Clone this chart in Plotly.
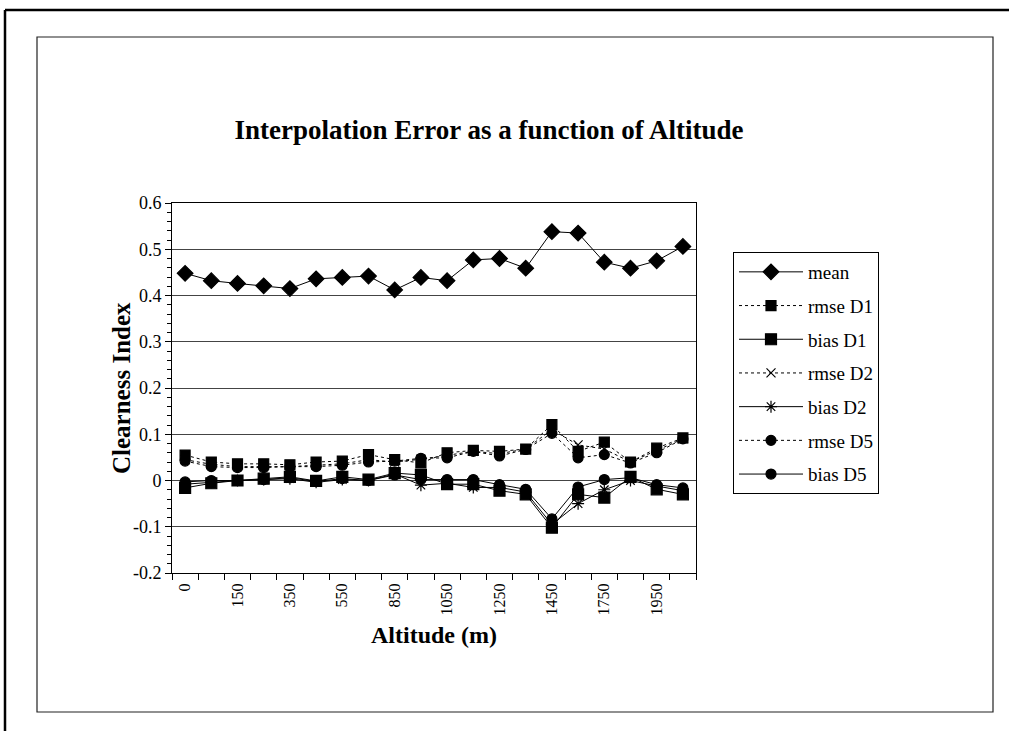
import plotly.graph_objects as go

# ---- data ----
altitudes = ["0", "50", "150", "250", "350", "450", "550", "750", "850", "950",
             "1050", "1150", "1250", "1350", "1450", "1650", "1750", "1850", "1950", "2050"]
shown_labels = ["0", "150", "350", "550", "850", "1050", "1250", "1450", "1750", "1950"]
y_tick_vals = [-0.2, -0.1, 0, 0.1, 0.2, 0.3, 0.4, 0.5, 0.6]
y_tick_text = ["-0.2", "-0.1", "0", "0.1", "0.2", "0.3", "0.4", "0.5", "0.6"]

mean = [0.448, 0.432, 0.426, 0.421, 0.415, 0.436, 0.439, 0.442, 0.412, 0.439,
        0.432, 0.477, 0.480, 0.459, 0.538, 0.535, 0.472, 0.459, 0.475, 0.506]
rmse_D1 = [0.055, 0.040, 0.036, 0.036, 0.034, 0.040, 0.042, 0.056, 0.045, 0.038,
           0.060, 0.065, 0.063, 0.068, 0.121, 0.063, 0.083, 0.040, 0.070, 0.092]
bias_D1 = [-0.016, -0.006, 0.000, 0.004, 0.008, -0.001, 0.008, 0.002, 0.016, 0.012,
           -0.008, -0.008, -0.022, -0.030, -0.102, -0.030, -0.037, 0.008, -0.019, -0.030]
rmse_D2 = [0.045, 0.035, 0.030, 0.030, 0.030, 0.033, 0.036, 0.045, 0.040, 0.046,
           0.055, 0.063, 0.058, 0.068, 0.110, 0.077, 0.068, 0.040, 0.065, 0.090]
bias_D2 = [-0.008, -0.004, 0.000, 0.002, 0.004, -0.004, 0.002, 0.000, 0.014, -0.010,
           -0.006, -0.015, -0.015, -0.025, -0.095, -0.050, -0.020, 0.000, -0.012, -0.022]
rmse_D5 = [0.042, 0.030, 0.028, 0.028, 0.030, 0.030, 0.033, 0.040, 0.042, 0.048,
           0.049, 0.063, 0.053, 0.067, 0.102, 0.049, 0.056, 0.038, 0.060, 0.090]
bias_D5 = [-0.003, 0.000, 0.000, 0.002, 0.006, -0.002, 0.004, 0.000, 0.012, 0.002,
           0.002, 0.002, -0.009, -0.019, -0.083, -0.014, 0.002, 0.006, -0.009, -0.016]

FONT = "Liberation Serif, Times New Roman, serif"
x = list(range(len(altitudes)))
tickpos = [altitudes.index(l) for l in shown_labels]

series = [
    ("mean", mean, "solid", "diamond", 12),
    ("rmse D1", rmse_D1, "dot", "square", 10),
    ("bias D1", bias_D1, "solid", "square", 11),
    ("rmse D2", rmse_D2, "dot", "x-thin-open", 9),
    ("bias D2", bias_D2, "solid", "asterisk-open", 10),
    ("rmse D5", rmse_D5, "dot", "circle", 10),
    ("bias D5", bias_D5, "solid", "circle", 10),
]

fig = go.Figure()
for i, (name, vals, dash, sym, size) in enumerate(series):
    fig.add_trace(go.Scatter(
        x=x, y=vals, name=name, mode="lines+markers", legendgroup=str(i),
        line=dict(color="black", width=1, dash=dash),
        marker=dict(symbol=sym, size=size, color="black",
                    line=dict(color="black", width=1.2)),
    ))

L, R, T, B = 172, 696, 203, 573
W, H = 1009, 731
pw, ph = R - L, B - T

def px(xp):
    return (xp - L) / pw

def py(yp):
    return (B - yp) / ph

fig.update_layout(
    width=W, height=H,
    margin=dict(l=L, r=W - R, t=T, b=H - B, pad=0),
    paper_bgcolor="white", plot_bgcolor="white",
    font=dict(family=FONT, color="black", size=16),
    showlegend=True,
    legend=dict(
        x=px(733), y=py(252), xanchor="left", yanchor="top",
        bordercolor="black", borderwidth=1, bgcolor="white",
        font=dict(family=FONT, size=19, color="black"),
        tracegroupgap=6, itemwidth=64, traceorder="grouped",
    ),
    title=dict(text="<b>Interpolation Error as a function of Altitude</b>",
               x=px(489), xanchor="center", xref="paper",
               y=1 - 130 / H, yanchor="middle", yref="container",
               font=dict(family=FONT, size=27, color="black")),
    xaxis=dict(
        range=[-0.5, len(altitudes) - 0.5],
        tickmode="array", tickvals=tickpos, ticktext=shown_labels,
        tickangle=-90, ticks="", showgrid=False, zeroline=False,
        showline=True, linecolor="black", linewidth=1, mirror=True,
        tickfont=dict(family=FONT, size=16, color="black"),
        ticklabelstandoff=3,
        minor=dict(tick0=-0.5, dtick=1, ticks="outside", ticklen=6,
                   tickcolor="black", showgrid=False),
    ),
    yaxis=dict(
        range=[-0.2, 0.6], tickmode="array", tickvals=y_tick_vals, ticktext=y_tick_text,
        ticks="outside", ticklen=6, tickcolor="black",
        showgrid=True, gridcolor="#444", gridwidth=1, zeroline=False,
        showline=True, linecolor="black", linewidth=1, mirror=True,
        tickfont=dict(family=FONT, size=18, color="black"),
        minor=dict(tick0=0, dtick=0.02, ticks="outside", ticklen=4, tickcolor="black",
                   showgrid=False),
    ),
    annotations=[
        dict(text="<b>Clearness Index</b>", x=px(121), y=0.5, xref="paper", yref="paper",
             textangle=-90, showarrow=False, xanchor="center", yanchor="middle",
             font=dict(family=FONT, size=25, color="black")),
        dict(text="<b>Altitude (m)</b>", x=px(434), y=py(635), xref="paper", yref="paper",
             showarrow=False, xanchor="center", yanchor="middle",
             font=dict(family=FONT, size=24, color="black")),
    ],
    shapes=[
        dict(type="rect", xref="paper", yref="paper",
             x0=px(37), x1=px(993), y0=py(712), y1=py(37),
             line=dict(color="#222", width=1.2), layer="below"),
        dict(type="line", xref="paper", yref="paper",
             x0=px(5), x1=px(5), y0=py(10), y1=py(740),
             line=dict(color="black", width=2.5)),
        dict(type="line", xref="paper", yref="paper",
             x0=px(5), x1=px(1015), y0=py(10), y1=py(10),
             line=dict(color="black", width=2.5)),
    ],
)

fig.write_html("out.html", config={"displayModeBar": False},
               post_script="document.body.style.margin='0';document.body.style.overflow='hidden';")
